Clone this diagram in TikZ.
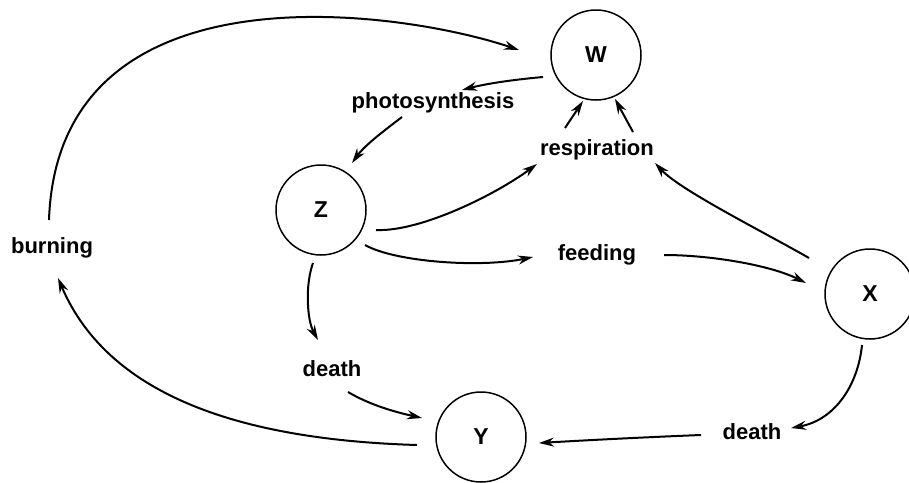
\documentclass[tikz,border=0pt]{standalone}
\usepackage{fontspec}
\setmainfont{Liberation Sans}
\usetikzlibrary{arrows.meta}
\begin{document}
\begin{tikzpicture}[x=1pt,y=-1pt,
  state/.style={circle,draw,line width=1.5pt,minimum size=90pt,inner sep=0pt,
    font=\fontsize{23}{26}\selectfont\bfseries},
  lbl/.style={inner sep=0pt,font=\fontsize{22}{26}\selectfont\bfseries},
  arr/.style={line width=2pt,-{Stealth[length=15pt,width=9pt]}}]
\useasboundingbox (0,0) rectangle (909,482);
\node[state] (W) at (596,55) {W};
\node[state] (Z) at (321,210) {Z};
\node[state] (X) at (870,294) {X};
\node[state] (Y) at (481,437) {Y};
\node[lbl] (photo) at (433,103) {photosynthesis};
\node[lbl] (resp) at (597,150) {respiration};
\node[lbl] (feed) at (597,255) {feeding};
\node[lbl] (burn) at (52,248) {burning};
\node[lbl] (deathL) at (332,369) {death};
\node[lbl] (deathR) at (752,432) {death};
% burning -> W
\draw[arr] ([shift={(-3,-28)}]burn.center) .. controls +(9,-260) and +(-119,-40) .. ([shift={(-77,-5)}]W.center);
% W -> photosynthesis
\draw[arr] ([shift={(-53,22)}]W.center) .. controls +(-33,3) and +(23,-6) .. ([shift={(29,-13)}]photo.center);
% photosynthesis -> Z
\draw[arr] ([shift={(-31,14)}]photo.center) .. controls +(-17,13) and +(13,-18) .. ([shift={(31,-47)}]Z.center);
% Z -> respiration
\draw[arr] ([shift={(55,20)}]Z.center) .. controls +(44,2) and +(-42,31) .. ([shift={(-60,14)}]resp.center);
% respiration -> W
\draw[arr] ([shift={(-32,-22)}]resp.center) -- ([shift={(-13,46)}]W.center);
\draw[arr] ([shift={(36,-18)}]resp.center) -- ([shift={(19,44)}]W.center);
% X -> respiration
\draw[arr] ([shift={(-61,-36)}]X.center) .. controls +(-49,-28) and +(25,27) .. ([shift={(58,13)}]resp.center);
% Z -> feeding
\draw[arr] ([shift={(44,35)}]Z.center) .. controls +(30,17) and +(-53,11) .. ([shift={(-64,2)}]feed.center);
% feeding -> X
\draw[arr] ([shift={(67,0)}]feed.center) .. controls +(46,0) and +(-36,-18) .. ([shift={(-64,-11)}]X.center);
% Z -> death
\draw[arr] ([shift={(-8,53)}]Z.center) .. controls +(-8,22) and +(-11,-20) .. ([shift={(-14,-29)}]deathL.center);
% death -> Y
\draw[arr] ([shift={(16,23)}]deathL.center) .. controls +(22,13) and +(-27,-6) .. ([shift={(-59,-19)}]Y.center);
% X -> death
\draw[arr] ([shift={(-8,51)}]X.center) .. controls +(-4,40) and +(44,-8) .. ([shift={(39,-4)}]deathR.center);
% death -> Y
\draw[arr] ([shift={(-51,3)}]deathR.center) .. controls +(-51,2) and +(51,-3) .. ([shift={(58,6)}]Y.center);
% Y -> burning
\draw[arr] ([shift={(-64,8)}]Y.center) .. controls +(-167,-5) and +(52,122) .. ([shift={(6,30)}]burn.center);
\end{tikzpicture}
\end{document}
